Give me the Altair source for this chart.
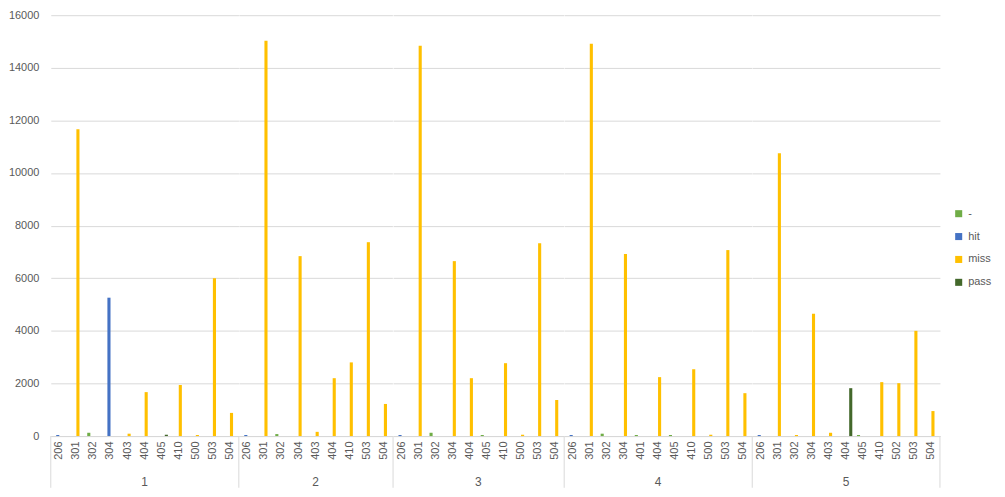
import altair as alt
import pandas as pd

groups = ["1", "2", "3", "4", "5"]
series_names = ["-", "hit", "miss", "pass"]
series_colors = ["#70AD47", "#4472C4", "#FFC000", "#43682B"]

codes_1 = ["206", "301", "302", "304", "403", "404", "405", "410", "500", "503", "504"]
series_1 = ["hit", "miss", "-", "hit", "miss", "miss", "pass", "miss", "miss", "miss", "miss"]
values_1 = [40, 11660, 125, 5260, 90, 1670, 50, 1940, 40, 6000, 880]

codes_2 = ["206", "301", "302", "304", "403", "404", "410", "503", "504"]
series_2 = ["hit", "miss", "-", "miss", "miss", "miss", "miss", "miss", "miss"]
values_2 = [40, 15030, 75, 6840, 160, 2200, 2800, 7370, 1220]

codes_3 = ["206", "301", "302", "304", "404", "405", "410", "500", "503", "504"]
series_3 = ["hit", "miss", "-", "miss", "miss", "-", "miss", "miss", "miss", "miss"]
values_3 = [40, 14840, 125, 6650, 2200, 40, 2770, 50, 7330, 1370]

codes_4 = ["206", "301", "302", "304", "401", "404", "405", "410", "500", "503", "504"]
series_4 = ["hit", "miss", "-", "miss", "-", "miss", "-", "miss", "miss", "miss", "miss"]
values_4 = [40, 14910, 90, 6920, 40, 2240, 40, 2540, 50, 7070, 1630]

codes_5 = ["206", "301", "302", "304", "403", "404", "405", "410", "502", "503", "504"]
series_5 = ["hit", "miss", "miss", "miss", "miss", "pass", "-", "miss", "miss", "miss", "miss"]
values_5 = [40, 10750, 40, 4650, 125, 1820, 40, 2050, 2010, 4000, 950]

y_ticks = [0, 2000, 4000, 6000, 8000, 10000, 12000, 14000, 16000]

all_codes = [codes_1, codes_2, codes_3, codes_4, codes_5]
all_series = [series_1, series_2, series_3, series_4, series_5]
all_values = [values_1, values_2, values_3, values_4, values_5]

rows = []
for gi, g in enumerate(groups):
    cs, ss, vs = all_codes[gi], all_series[gi], all_values[gi]
    for ci, (c, s, v) in enumerate(zip(cs, ss, vs)):
        rows.append({
            "group": g, "code": c, "series": s, "value": v,
            "first": ci == 0,
            "last": (gi == len(groups) - 1) and (ci == len(cs) - 1),
        })
df = pd.DataFrame(rows)

FONT = "Liberation Sans"
GREY = "#595959"
LINE = "#d9d9d9"
H = 423
SEP = 52

x_enc = alt.X(
    "code:N",
    title=None,
    scale=alt.Scale(paddingInner=0, paddingOuter=0),
    axis=alt.Axis(labelAngle=-90, ticks=False, domainColor=LINE, labelColor=GREY,
                  labelFontSize=11, labelFont=FONT, labelPadding=5, grid=False),
)

bars = alt.Chart().mark_bar().encode(
    x=x_enc,
    xOffset=alt.XOffset("series:N",
                        scale=alt.Scale(domain=series_names, paddingInner=0, paddingOuter=0.75)),
    y=alt.Y("value:Q", title=None,
            scale=alt.Scale(domain=[0, 16000], nice=False),
            axis=alt.Axis(values=y_ticks, format="d", domain=False, ticks=False, labelColor=GREY,
                          labelFontSize=11, labelFont=FONT, labelPadding=12,
                          gridColor=LINE)),
    color=alt.Color("series:N", title=None,
                    scale=alt.Scale(domain=series_names, range=series_colors),
                    legend=alt.Legend(orient="none", legendX=907, legendY=194,
                                      symbolType="square", symbolSize=50, symbolStrokeWidth=0,
                                      labelFontSize=11, labelFont=FONT, labelColor=GREY,
                                      rowPadding=11)),
)

sep_left = alt.Chart().mark_tick(color=LINE, orient="vertical", size=SEP, thickness=1,
                                 opacity=1).encode(
    x=alt.X("code:N", bandPosition=0),
    y=alt.value(H + SEP / 2),
).transform_filter("datum.first")

sep_right = alt.Chart().mark_tick(color=LINE, orient="vertical", size=SEP, thickness=1,
                                  opacity=1).encode(
    x=alt.X("code:N", bandPosition=1),
    y=alt.value(H + SEP / 2),
).transform_filter("datum.last")

layer = alt.layer(bars, sep_left, sep_right, data=df).properties(
    width={"step": 17.15, "for": "position"}, height=H
)

chart = layer.facet(
    column=alt.Column("group:N", title=None,
                      header=alt.Header(labelOrient="bottom", labelColor=GREY, labelFontSize=12,
                                        labelFont=FONT, labelPadding=41)),
    spacing=0,
    bounds="flush",
).resolve_scale(x="independent", xOffset="independent").configure(
    background="white", padding={"left": 0, "top": 0, "right": 5, "bottom": 0}
).configure_view(
    stroke="transparent", strokeWidth=0
)

chart.save("out.html", embed_options={"renderer": "svg", "actions": False})
